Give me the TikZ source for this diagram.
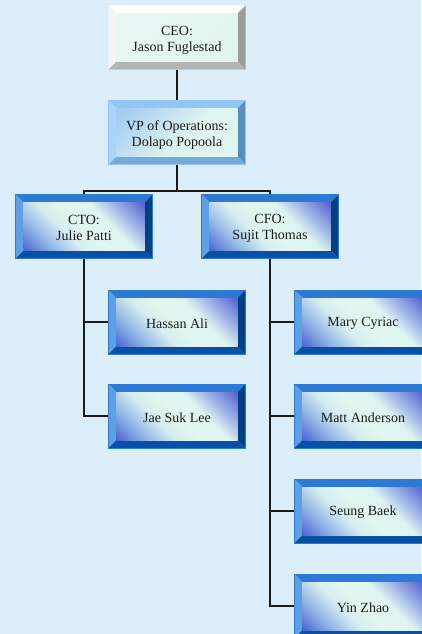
\documentclass[tikz,border=0pt]{standalone}
\usepackage{fontspec}
\setmainfont{Liberation Serif}
\usetikzlibrary{calc}
\definecolor{bg}{HTML}{DDEEFB}
\definecolor{txt}{HTML}{1A1A1A}
\definecolor{bTop}{HTML}{2C7AD4}
\definecolor{bLeft}{HTML}{5E9FE6}
\definecolor{bRight}{HTML}{003F80}
\definecolor{bBot}{HTML}{0650A6}
\definecolor{vTop}{HTML}{92C6F4}
\definecolor{vLeft}{HTML}{AAD4F8}
\definecolor{vRight}{HTML}{5B8DC2}
\definecolor{vBot}{HTML}{78A9D8}
\definecolor{cTop}{HTML}{FFFFFF}
\definecolor{cLeft}{HTML}{F6F6F6}
\definecolor{cRight}{HTML}{9C9C9C}
\definecolor{cBot}{HTML}{B4B4B4}
\pgfdeclarehorizontalshading{blueface}{100bp}{%
  color(0bp)=(rgb,255:red,70;green,100;blue,205);
  color(15bp)=(rgb,255:red,75;green,105;blue,208);
  color(28bp)=(rgb,255:red,150;green,185;blue,230);
  color(40bp)=(rgb,255:red,215;green,238;blue,240);
  color(50bp)=(rgb,255:red,226;green,246;blue,239);
  color(62bp)=(rgb,255:red,222;green,244;blue,240);
  color(72bp)=(rgb,255:red,160;green,180;blue,232);
  color(85bp)=(rgb,255:red,85;green,100;blue,205);
  color(100bp)=(rgb,255:red,85;green,100;blue,205)}
\pgfdeclarehorizontalshading{vpface}{100bp}{%
  color(0bp)=(rgb,255:red,230;green,248;blue,240);
  color(45bp)=(rgb,255:red,222;green,244;blue,240);
  color(70bp)=(rgb,255:red,182;green,216;blue,242);
  color(85bp)=(rgb,255:red,160;green,202;blue,242);
  color(100bp)=(rgb,255:red,160;green,202;blue,242)}
\pgfdeclarehorizontalshading{ceoface}{100bp}{%
  color(0bp)=(rgb,255:red,222;green,244;blue,236);
  color(100bp)=(rgb,255:red,236;green,248;blue,246)}
\newcommand\bw{8pt}
\newcommand\mybevel[5]{%
  \coordinate (bnw) at (path picture bounding box.north west);
  \coordinate (bne) at (path picture bounding box.north east);
  \coordinate (bsw) at (path picture bounding box.south west);
  \coordinate (bse) at (path picture bounding box.south east);
  \coordinate (inw) at ($(bnw)+(\bw,-\bw)$);
  \coordinate (ine) at ($(bne)+(-\bw,-\bw)$);
  \coordinate (isw) at ($(bsw)+(\bw,\bw)$);
  \coordinate (ise) at ($(bse)+(-\bw,\bw)$);
  \fill[#1] (bnw)--(bne)--(ine)--(inw)--cycle;
  \fill[#2] (bnw)--(inw)--(isw)--(bsw)--cycle;
  \fill[#3] (bne)--(bse)--(ise)--(ine)--cycle;
  \fill[#4] (bsw)--(isw)--(ise)--(bse)--cycle;
  \shade[#5] (inw) rectangle (ise);
}
\tikzset{
  boxbase/.style={rectangle, inner sep=0pt, minimum width=137pt, minimum height=64pt},
  bluebox/.style={boxbase, draw=bTop, line width=0.6pt,
    path picture={\mybevel{bTop}{bLeft}{bRight}{bBot}{shading=blueface, shading angle=45}}},
  vpbox/.style={boxbase, draw=vTop, line width=0.6pt,
    path picture={\mybevel{vTop}{vLeft}{vRight}{vBot}{shading=vpface, shading angle=135}}},
  ceobox/.style={boxbase,
    path picture={\mybevel{cTop}{cLeft}{cRight}{cBot}{shading=ceoface, shading angle=135}}},
  boxtext/.style={inner sep=0pt, align=center, text=txt, font=\fontsize{14}{16}\selectfont},
  conn/.style={draw=txt, line width=1.2pt}
}
\begin{document}
\begin{tikzpicture}[x=1pt,y=-1pt]
\path[use as bounding box, fill=bg] (0,0) rectangle (421,634);
\node[ceobox] (ceo) at (177,37.5) {};
\node[vpbox] (vp) at (177,132.5) {};
\node[bluebox] (cto) at (84,226.5) {};
\node[bluebox] (cfo) at (270,226.5) {};
\node[bluebox] (hassan) at (177,322) {};
\node[bluebox] (jae) at (177,416) {};
\node[bluebox] (mary) at (363,322) {};
\node[bluebox] (matt) at (363,416) {};
\node[bluebox] (seung) at (363,511) {};
\node[bluebox] (yin) at (363,606) {};
\node[boxtext] (ceoT) at ([yshift=-2.5pt]ceo.center) {CEO:\\Jason Fuglestad};
\node[boxtext] (vpT) at ([yshift=-2.5pt]vp.center) {VP of Operations:\\Dolapo Popoola};
\node[boxtext] (ctoT) at ([yshift=-1.5pt]cto.center) {CTO:\\Julie Patti};
\node[boxtext] (cfoT) at ([yshift=-1.5pt]cfo.center) {CFO:\\Sujit Thomas};
\node[boxtext] (hassanT) at ([yshift=-1.5pt]hassan.center) {Hassan Ali};
\node[boxtext] (jaeT) at ([yshift=-1.5pt]jae.center) {Jae Suk Lee};
\node[boxtext] (maryT) at ([yshift=-1.5pt]mary.center) {Mary Cyriac};
\node[boxtext] (mattT) at ([yshift=-1.5pt]matt.center) {Matt Anderson};
\node[boxtext] (seungT) at ([yshift=-1.5pt]seung.center) {Seung Baek};
\node[boxtext] (yinT) at ([yshift=-1.5pt]yin.center) {Yin Zhao};
\coordinate (bus) at (177,191);
\draw[conn] (ceo.south) -- (vp.north);
\draw[conn] (vp.south) -- (bus);
\draw[conn] (cto.north) |- (bus) -| (cfo.north);
\draw[conn] (cto.south) |- (jae.west);
\draw[conn] (hassan.west) -- (hassan.west -| cto.south);
\draw[conn] (cfo.south) |- (yin.west);
\draw[conn] (mary.west) -- (mary.west -| cfo.south);
\draw[conn] (matt.west) -- (matt.west -| cfo.south);
\draw[conn] (seung.west) -- (seung.west -| cfo.south);
\end{tikzpicture}
\end{document}
